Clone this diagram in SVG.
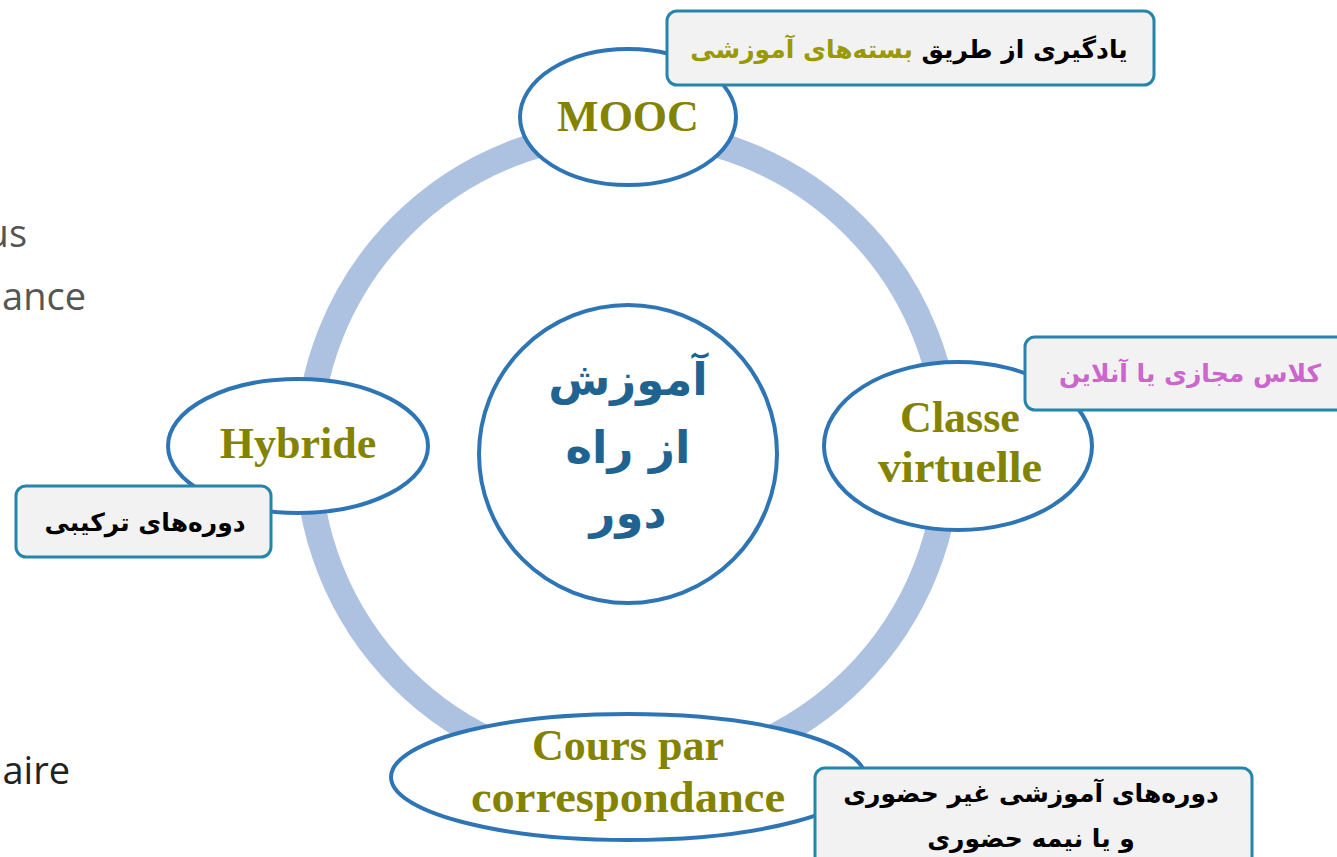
<svg xmlns="http://www.w3.org/2000/svg" width="1337" height="857" viewBox="0 0 1337 857">
<style>
.bg{font-family:"Open Sans",Lato,sans-serif;font-size:38px}
.node{fill:#fff;stroke:#2e75b6;stroke-width:4}
.lbl{font-family:"Liberation Serif",serif;font-weight:bold;font-size:44px;fill:#838300;text-anchor:middle}
.call{fill:#f2f2f2;stroke:#2585aa;stroke-width:3}
.fa{font-family:"DejaVu Sans",sans-serif;font-weight:bold;font-size:25px;text-anchor:middle;direction:rtl}
.ctr{font-family:"DejaVu Sans",sans-serif;font-weight:bold;font-size:45px;fill:#1f6391;text-anchor:middle;direction:rtl}
</style>
<rect width="1337" height="857" fill="#fff"/>
<g id="background-text">
<text class="bg" x="27" y="247" text-anchor="end" fill="#555">us</text>
<text class="bg" x="86" y="310" text-anchor="end" fill="#555">ance</text>
<text class="bg" x="70" y="784" text-anchor="end" fill="#222">aire</text>
</g>
<g id="connectors">
<circle cx="628" cy="452" r="320" fill="none" stroke="#adc2e0" stroke-width="26"/>
</g>
<g id="center">
<circle class="node" cx="628" cy="454" r="149"/>
<text class="ctr" x="628" y="395">آموزش</text>
<text class="ctr" x="628" y="463">از راه</text>
<text class="ctr" x="628" y="528">دور</text>
</g>
<g id="mooc">
<ellipse class="node" cx="628" cy="117" rx="108" ry="68"/>
<text class="lbl" x="628" y="131">MOOC</text>
</g>
<g id="classe">
<ellipse class="node" cx="958" cy="446" rx="134" ry="84"/>
<text class="lbl" x="960" y="432">Classe</text>
<text class="lbl" x="960" y="482" textLength="164" lengthAdjust="spacingAndGlyphs">virtuelle</text>
</g>
<g id="hybride">
<ellipse class="node" cx="298" cy="446" rx="130" ry="67"/>
<text class="lbl" x="298" y="458">Hybride</text>
</g>
<g id="cours">
<ellipse class="node" cx="628" cy="777" rx="237" ry="63"/>
<text class="lbl" x="628" y="760">Cours par</text>
<text class="lbl" x="628" y="812" textLength="314" lengthAdjust="spacingAndGlyphs">correspondance</text>
</g>
<g id="callout-mooc">
<rect class="call" x="667" y="11" width="487" height="74" rx="10"/>
<text class="fa" x="909" y="58"><tspan fill="#000">یادگیری از طریق </tspan><tspan fill="#999900">بسته‌های آموزشی</tspan></text>
</g>
<g id="callout-classe">
<rect class="call" x="1025" y="337" width="330" height="73" rx="10"/>
<text class="fa" x="1190" y="382" font-size="26" fill="#cc66cc">کلاس مجازی یا آنلاین</text>
</g>
<g id="callout-hybride">
<rect class="call" x="16" y="486" width="255" height="71" rx="10"/>
<text class="fa" x="145" y="531" fill="#000">دوره‌های ترکیبی</text>
</g>
<g id="callout-cours">
<rect class="call" x="815" y="768" width="437" height="100" rx="10"/>
<text class="fa" x="1031" y="802" font-size="27" fill="#000">دوره‌های آموزشی غیر حضوری</text>
<text class="fa" x="1031" y="847" font-size="27" fill="#000">و یا نیمه حضوری</text>
</g>
</svg>
